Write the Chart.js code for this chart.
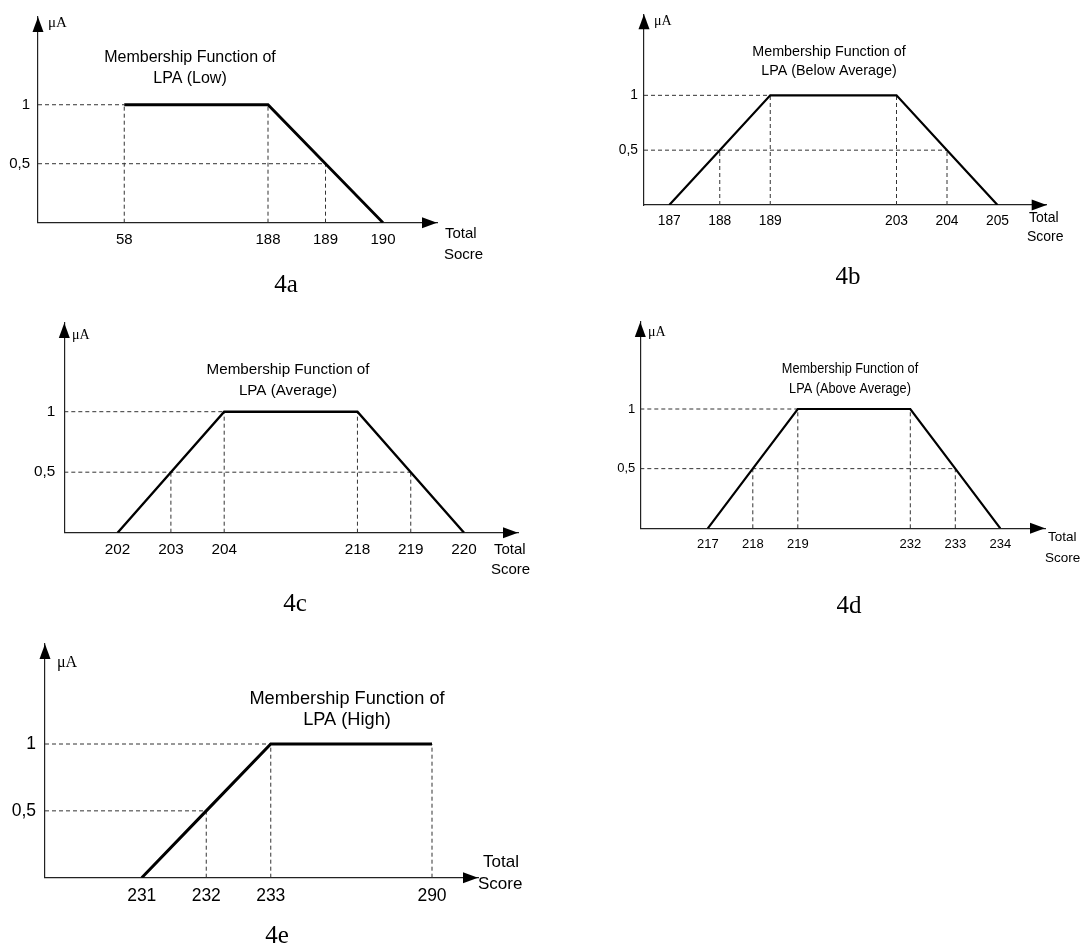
<!DOCTYPE html>
<html>
<head>
<meta charset="utf-8">
<script src="https://cdn.jsdelivr.net/npm/chart.js@4.4.1/dist/chart.umd.min.js"></script>
<style>
  html, body { margin: 0; padding: 0; background: #fff; }
  #wrap { position: relative; width: 1090px; height: 949px; overflow: hidden; }
  #wrap canvas { position: absolute; left: 0; top: 0; }
</style>
</head>
<body>
<div id="wrap">
  <canvas id="cA" width="1090" height="949"></canvas>
  <canvas id="cB" width="1090" height="949"></canvas>
  <canvas id="cC" width="1090" height="949"></canvas>
  <canvas id="cD" width="1090" height="949"></canvas>
  <canvas id="cE" width="1090" height="949"></canvas>
</div>
<script>
// ---------- DATA ----------
const scoresA = [58, 188, 189, 190];
const muA     = [1, 1, 0.5, 0];
const scoresB = [187, 188, 189, 203, 204, 205];
const muB     = [0, 0.5, 1, 1, 0.5, 0];
const scoresC = [202, 203, 204, 218, 219, 220];
const muC     = [0, 0.5, 1, 1, 0.5, 0];
const scoresD = [217, 218, 219, 232, 233, 234];
const muD     = [0, 0.5, 1, 1, 0.5, 0];
const scoresE = [231, 232, 233, 290];
const muE     = [0, 0.5, 1, 1];
const yTickValues = [0.5, 1];
const yTickLabels = ['0,5', '1'];
const titleLine1 = 'Membership Function of';
const titleLine2 = ['LPA (Low)', 'LPA (Below Average)', 'LPA (Average)', 'LPA (Above Average)', 'LPA (High)'];
const xAxisWords = [['Total', 'Socre'], ['Total', 'Score'], ['Total', 'Score'], ['Total', 'Score'], ['Total', 'Score']];
const captions = ['4a', '4b', '4c', '4d', '4e'];
const yAxisName = 'μA';

// ---------- LAYOUT ----------
const SANS = "'Liberation Sans', Arial, sans-serif";
const SERIF = "'Liberation Serif', 'Times New Roman', serif";
const panels = [
  { canvas: 'cA', scores: scoresA, mu: muA, axisX: 38, axisY: 222.7, topY: 7, endX: 437, y1: 99, unit: 57.5, lead: 1.5,
    tick: 15, tfont: 16, squeeze: 1, title: [190, 57.5, 79], muPos: [48, 23], muFont: 15, words: [445, 234, 444, 255], wfont: 15,
    cap: [286, 285], lineW: 2.8, yPad: 8, yW: 36 },
  { canvas: 'cB', scores: scoresB, mu: muB, axisX: 644, axisY: 205, topY: 5, endX: 1046.7, y1: 90, unit: 50.5, lead: 0.5,
    tick: 13.8, tfont: 14.3, squeeze: 1, title: [829, 52, 71], muPos: [654, 21], muFont: 14, words: [1029, 218, 1027, 237], wfont: 14,
    cap: [848, 277], lineW: 2.2, yPad: 6, yW: 40 },
  { canvas: 'cC', scores: scoresC, mu: muC, axisX: 64.3, axisY: 532.7, topY: 323, endX: 518, y1: 411.7, unit: 53.3, lead: 1,
    tick: 15.3, tfont: 15.2, squeeze: 1, title: [288, 370, 391], muPos: [72, 335], muFont: 14, words: [494, 550, 491, 570], wfont: 15,
    cap: [295, 604], lineW: 2.4, yPad: 9, yW: 40 },
  { canvas: 'cD', scores: scoresD, mu: muD, axisX: 640.3, axisY: 528.3, topY: 322, endX: 1045, y1: 409, unit: 45, lead: 1.5,
    tick: 13, tfont: 15.5, squeeze: 0.82, title: [850, 369, 389], muPos: [648, 332], muFont: 14, words: [1048, 537, 1045, 558], wfont: 13.5,
    cap: [849, 606], lineW: 2.2, yPad: 5, yW: 40 },
  { canvas: 'cE', scores: scoresE, mu: muE, axisX: 45, axisY: 877.7, topY: 644, endX: 478, y1: 744, unit: 64.5, lead: 1.5,
    tick: 17.5, tfont: 18.2, squeeze: 1, title: [347, 699, 720], muPos: [57, 663], muFont: 16, words: [483, 862, 478, 884], wfont: 17,
    cap: [277, 936], lineW: 3, yPad: 9, yW: 44 }
];

const X_H = 40;
const INK = '#000';
const GUIDE = '#333';

// schematic (broken) axis: unit steps between consecutive scores, a 2.5-unit break across jumps
function slotsFor(scores, lead) {
  const s = [];
  scores.forEach((v, i) => {
    if (i === 0) s.push(lead);
    else s.push(s[i - 1] + (v - scores[i - 1] === 1 ? 1 : 2.5));
  });
  return s;
}

function guideSets(slots, mu) {
  const sets = [];
  slots.forEach((s, i) => { if (mu[i] > 0) sets.push([{ x: s, y: 0 }, { x: s, y: mu[i] }]); });
  sets.push([{ x: 0, y: 1 }, { x: slots[mu.indexOf(1)], y: 1 }]);
  sets.push([{ x: 0, y: 0.5 }, { x: slots[mu.lastIndexOf(0.5)], y: 0.5 }]);
  return sets;
}

panels.forEach((p, k) => {
  const slots = slotsFor(p.scores, p.lead);
  const xmax = (p.endX - p.axisX) / p.unit;
  const ymax = (p.axisY - p.topY) / (p.axisY - p.y1);
  const main = {
    data: slots.map((s, i) => ({ x: s, y: p.mu[i] })),
    borderColor: INK, borderWidth: p.lineW, pointRadius: 0, tension: 0, fill: false,
    borderJoinStyle: 'miter'
  };
  const guides = guideSets(slots, p.mu).map(d => ({
    data: d, borderColor: GUIDE, borderWidth: 1, borderDash: [4, 3], pointRadius: 0, fill: false
  }));

  const decor = {
    id: 'decor' + k,
    afterDraw(chart) {
      const ctx = chart.ctx, ca = chart.chartArea;
      ctx.save();
      ctx.fillStyle = INK;
      // arrowheads
      ctx.beginPath();
      ctx.moveTo(ca.right, ca.bottom);
      ctx.lineTo(ca.right - 15, ca.bottom - 5.5);
      ctx.lineTo(ca.right - 15, ca.bottom + 5.5);
      ctx.closePath(); ctx.fill();
      ctx.beginPath();
      ctx.moveTo(ca.left, ca.top);
      ctx.lineTo(ca.left - 5.5, ca.top + 15);
      ctx.lineTo(ca.left + 5.5, ca.top + 15);
      ctx.closePath(); ctx.fill();
      // y axis name
      ctx.textBaseline = 'middle';
      ctx.textAlign = 'left';
      ctx.font = p.muFont + 'px ' + SERIF;
      ctx.fillText(yAxisName, p.muPos[0], p.muPos[1]);
      // title (optionally horizontally condensed)
      ctx.save();
      ctx.textAlign = 'center';
      ctx.font = p.tfont + 'px ' + SANS;
      ctx.translate(p.title[0], 0);
      ctx.scale(p.squeeze, 1);
      ctx.fillText(titleLine1, 0, p.title[1]);
      ctx.fillText(titleLine2[k], 0, p.title[2]);
      ctx.restore();
      // x axis words
      ctx.textAlign = 'left';
      ctx.textBaseline = 'middle';
      ctx.font = p.wfont + 'px ' + SANS;
      ctx.fillText(xAxisWords[k][0], p.words[0], p.words[1]);
      ctx.fillText(xAxisWords[k][1], p.words[2], p.words[3]);
      // caption
      ctx.textAlign = 'center';
      ctx.font = '25px ' + SERIF;
      ctx.fillText(captions[k], p.cap[0], p.cap[1]);
      ctx.restore();
    }
  };

  new Chart(document.getElementById(p.canvas), {
    type: 'line',
    data: { datasets: [main].concat(guides) },
    options: {
      responsive: false,
      animation: false,
      events: [],
      layout: {
        padding: {
          left: p.axisX - p.yW,
          top: p.topY,
          right: 1090 - p.endX,
          bottom: 949 - p.axisY - X_H
        }
      },
      plugins: { legend: { display: false }, title: { display: false }, tooltip: { enabled: false } },
      scales: {
        x: {
          type: 'linear', min: 0, max: xmax, bounds: 'data',
          grid: { display: false, drawTicks: false },
          border: { display: true, color: '#222', width: 1.2 },
          afterBuildTicks: s => { s.ticks = slots.map(v => ({ value: v })); },
          afterFit: s => { s.height = X_H; },
          ticks: {
            autoSkip: false, maxRotation: 0, padding: 8, color: INK,
            font: { family: SANS, size: p.tick },
            callback: (v, i) => String(p.scores[i])
          }
        },
        y: {
          type: 'linear', min: 0, max: ymax,
          grid: { display: false, drawTicks: false },
          border: { display: true, color: '#222', width: 1.2 },
          afterBuildTicks: s => { s.ticks = yTickValues.map(v => ({ value: v })); },
          afterFit: s => { s.width = p.yW; },
          ticks: {
            autoSkip: false, padding: p.yPad, color: INK,
            font: { family: SANS, size: p.tick },
            callback: (v, i) => yTickLabels[i]
          }
        }
      }
    },
    plugins: [decor]
  });
});
</script>
</body>
</html>
